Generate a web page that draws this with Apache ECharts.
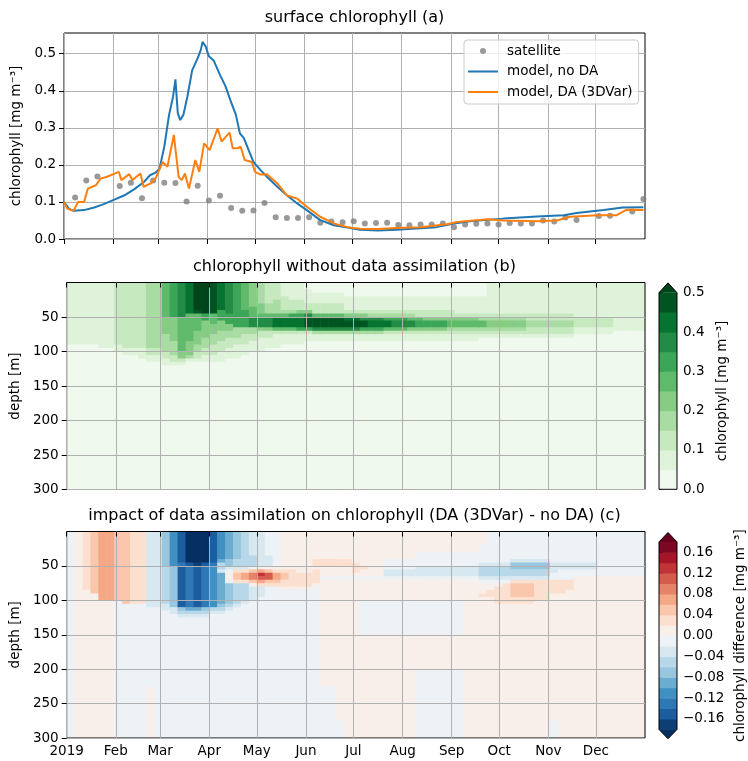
<!DOCTYPE html>
<html>
<head>
<meta charset="utf-8">
<title>surface chlorophyll</title>
<script src="https://cdn.jsdelivr.net/npm/echarts@6/dist/echarts.min.js"></script>
<style>
  html, body { margin: 0; padding: 0; background: #fff; }
  #chart { width: 748px; height: 761px; }
</style>
</head>
<body>
<div id="chart"></div>
<script>
// ---------- data ----------
// time axis is day of year 2019 (0 = Jan 1)
const monthStarts = [0, 31, 59, 90, 120, 151, 181, 212, 243, 273, 304, 334];
const monthLabels = ['2019', 'Feb', 'Mar', 'Apr', 'May', 'Jun', 'Jul', 'Aug', 'Sep', 'Oct', 'Nov', 'Dec'];
const chlTicks = [0, 0.1, 0.2, 0.3, 0.4, 0.5];
const depthTicks = [50, 100, 150, 200, 250, 300];

// panel (a): surface chlorophyll
const satDays = [7,14,21,35,42,49,56,63,70,77,84,91,98,105,112,119,126,133,140,147,154,161,168,175,182,189,196,203,210,217,224,231,238,245,252,259,266,273,280,287,294,301,308,315,322,336,343,357,364];
const satChl = [0.112,0.158,0.169,0.143,0.152,0.110,0.158,0.152,0.151,0.101,0.144,0.104,0.117,0.084,0.076,0.077,0.097,0.059,0.057,0.057,0.059,0.044,0.047,0.045,0.048,0.042,0.043,0.044,0.038,0.037,0.039,0.039,0.042,0.032,0.039,0.041,0.042,0.039,0.043,0.042,0.042,0.050,0.047,0.058,0.051,0.062,0.063,0.074,0.108];

const noDaDays = [0,3,6,12.6,19,25,32,38,44,50,54,57.5,60,63,66,68.5,70,71.5,73,75,77.5,80.5,84,86,87,89,91,94,98,101.5,104.5,108,110.5,113,116,119,123.5,127.5,134,140,146.5,152.5,161,169.5,178,186,197,209,234,245,255,276,297,314,322,339,351,364];
const noDaChl = [0.100,0.082,0.076,0.078,0.085,0.094,0.107,0.118,0.134,0.153,0.172,0.179,0.190,0.249,0.335,0.384,0.431,0.339,0.321,0.335,0.384,0.455,0.488,0.511,0.532,0.520,0.493,0.482,0.443,0.412,0.375,0.335,0.285,0.272,0.240,0.208,0.186,0.168,0.141,0.118,0.096,0.078,0.051,0.037,0.031,0.025,0.023,0.025,0.032,0.042,0.048,0.055,0.061,0.064,0.070,0.078,0.085,0.086];

const daDays = [0,2,6,8.8,12.6,15,20,23,27,34.5,36,41,43,48,50,54.5,57.5,62,65,69,72,74,76,78.5,82.5,85,88,91.5,96.5,99,104,106,109,111,113.5,118,120,123.5,127.5,134,140,146.5,152.5,161,169.5,178,186,197,209,224,240.5,247,266,276,297,309.5,318,335,347,353.5,364];
const daChl = [0.100,0.082,0.076,0.100,0.100,0.136,0.145,0.163,0.168,0.181,0.159,0.175,0.159,0.177,0.141,0.150,0.163,0.208,0.195,0.281,0.168,0.159,0.177,0.136,0.213,0.181,0.258,0.240,0.299,0.263,0.287,0.245,0.245,0.249,0.213,0.208,0.181,0.174,0.175,0.150,0.118,0.109,0.087,0.060,0.042,0.032,0.028,0.027,0.030,0.032,0.040,0.046,0.053,0.050,0.048,0.050,0.060,0.064,0.064,0.079,0.078];

// panels (b) and (c): contour bands.
// one profile per 5-day column, top to bottom over depthEdges rows,
// written as "code*count" runs; the last run fills to the bottom.
const colDays = 5;
const depthEdges = [0,5,10,15,20,25,30,35,40,45,50,55,60,65,70,75,80,85,90,95,100,105,110,115,120,125,130,150,175,200,225,250,275,300];

// chlorophyll levels (mg m-3), band code '0'..'9', 'A' = above 0.5
const chlLevels = [0, 0.05, 0.1, 0.15, 0.2, 0.25, 0.3, 0.35, 0.4, 0.45, 0.5];
const chlCodes = '0123456789A';
const chlColors = ['#f0f9ed','#dff3da','#c7e9c0','#a9dca2','#86cc85','#60ba6c','#3ba558','#238b45','#077331','#005422','#00441b'];
const chlProfiles = [
  '1*18 0', '1*18 0', '1*18 0', '1*18 0', '1*19 0', '1*19 0',
  '2*18 1*2 0', '2*19 1*2 0', '2*19 1*2 0', '2*19 1*3 0',
  '3*19 2*2 1*2 0', '3*19 2*2 1*2 0',
  '5*10 4*5 3*5 2*2 1*2 0', '6*10 4*7 3*4 2*2 1 0', '7*10 5*10 4*2 2 1 0', '8*9 5*8 4*4 3 1 0',
  'A*8 9 5*5 4*4 3*2 2*2 1 0', 'A*9 6*2 4*5 3*3 2*2 1*2 0', '9*9 5*3 4*3 3*3 2*3 1*2 0',
  '8*8 6*3 4*3 3*3 2*3 1*3 0', '7*9 6*3 4*2 3*2 2*3 1*3 0', '6*13 3*3 2*2 1*4 0',
  '5*8 6*5 3*2 2*3 1*3 0', '4*7 5*3 7*3 3*2 2*2 1*3 0', '3*6 4*3 5 7*3 4 2*2 1*4 0',
  '2*6 3*3 5 7*3 4 2*2 1*3 0', '2*5 3*4 5 8*3 5 2 1*4 0', '1*4 2*4 3 5 8*3 5 2 1*3 0',
  '1*5 2*3 3 6 8*3 5 2 1*3 0', '1*5 2*3 4 6 8*3 6 2 1*3 0', '0*2 1*4 2*2 4 7 9*3 6 2 1*2 0',
  '0*3 1*3 2*3 5 9*3 7 3 1*2 0', '0*3 1*3 2*3 5 9*3 7 3 1*2 0', '0*3 1*3 2*3 5 9*3 7 3 1*2 0', '0*3 1*3 2*3 5 9*3 7 3 1*2 0',
  '0*4 1*4 2 4 8 9*2 7 3 1*2 0', '0*4 1*4 2 4 8 9*2 7 3 1*2 0', '0*4 1*4 2 4 7 9*2 6 3 1*2 0',
  '0*4 1*4 2 3 7 8*2 6 3 1*2 0', '0*4 1*4 2 3 7 8*2 6 3 1*2 0', '0*4 1*4 2 3 6 8*2 5 2 1*2 0',
  '0*4 1*4 2 3 6 7*2 5 2 1*2 0', '0*4 1*4 2 3 6 7*2 5 2 1*2 0', '0*4 1*4 2 3 5 7*2 4 2 1*2 0',
  '0*4 1*4 2*2 5 6*2 4 2 1*2 0', '0*4 1*4 2*2 4 6*2 4 2 1*2 0', '0*4 1*4 2*2 4 6*2 4 2 1*2 0', '0*4 1*4 2*2 4 6*2 4 2 1*2 0',
  '0*4 1*4 2*2 4 5*2 3 2 1*2 0', '0*4 1*5 2 4 5*2 3 2 1*2 0', '0*4 1*5 2 4 5*2 3 2 1*2 0', '0*4 1*5 2 4 5*2 3 2 1*2 0',
  '0*4 1*5 2 3 5*2 3 2 1 0',
  '1*9 2 3 4*2 3 2 1 0', '1*9 2 3 4*2 3 2 1 0', '1*9 2 3 4*2 3 2 1 0', '1*9 2 3 4*2 3 2 1 0', '1*9 2 3 4*2 3 2 1 0',
  '1*9 2*2 3*2 2*2 1 0', '1*9 2*2 3*2 2*2 1 0', '1*9 2*2 3*2 2*2 1 0', '1*9 2*2 3*2 2*2 1 0', '1*9 2*2 3*2 2*2 1 0', '1*9 2*2 3*2 2*2 1 0',
  '1*10 2*3 1*2 0', '1*10 2*3 1*2 0', '1*10 2*3 1*2 0', '1*10 2*3 1*2 0', '1*10 2*3 1*2 0',
  '1*14 0', '1*14 0', '1*14 0', '1*14 0'
];

// difference levels (mg m-3): '#' below -0.18, 'i'..'a' = -0.18..0, '1'..'9' = 0..0.18, '+' above 0.18
const diffLevels = [-0.18,-0.16,-0.14,-0.12,-0.10,-0.08,-0.06,-0.04,-0.02,0,0.02,0.04,0.06,0.08,0.10,0.12,0.14,0.16,0.18];
const diffTicks = [-0.16,-0.12,-0.08,-0.04,0,0.04,0.08,0.12,0.16];
const diffCodes = '#ihgfedcba123456789+';
const diffColors = ['#053061','#0d3f76','#1c5da0','#2e78b5','#4190c2','#6bacd1','#96c7df','#b8d8e9','#d8e8f1','#ecf2f5',
                    '#f9efea','#fce0cf','#fac6ac','#f5a886','#e58368','#d45c4b','#c03438','#a51429','#7c0722','#67001f'];
const diffProfiles = [
  'a', '1', '2*17 1', '3*18 1', '4*20 1', '4*20 1', '3*20 a', '3*21 a', '2*21 a', '2*21 a',
  'b*22 a*8 1', 'b*22 a',
  'd*10 c*11 b*2 a', 'f*10 d*12 b*2 a', 'h*9 g h*12 d c b a', '#*9 h g*12 e c b a',
  '#*9 i h*12 e c b a', '#*9 h g*12 d c b a', 'h*9 g f*12 c b a',
  'f*8 e c*2 b e*9 d c b a', 'e*8 d*2 b a 1*2 a d*6 c b a', 'd*8 c*2 b 2 3*2 2 c*6 b a',
  'c*10 b 2 4*2 2 c*5 b a', 'b*7 c*3 a 3 5*2 3 1 b*4 a', 'b*10 a 4 7 6 4 2 b*3 a',
  'a*7 b*3 1 3 6*2 3 2 a', 'a*10 1 2 4*2 3 2 a', '1*11 2 3*2 2*2 1 a', '1*11 2*5 1 a',
  '1*12 2*4 1 a', '1*12 2*4 1 a', '1*8 2*2 1 2*4 1 a',
  '1*8 2*2 1*3 a 1*16 a', '1*8 2*2 1*3 a 1*16 a', '1*8 2*2 1*3 a 1*18 a', '1*8 2*2 1*3 a 1',
  '1*9 2*3 1 a 1', '1*10 2 1*2 a 1*6 a*7 1', '1*13 a 1*6 a*7 1', '1*13 a 1*6 a*7 1',
  '1*8 a*3 b*2 a 1*6 a*7 1', '1*8 a*3 b*2 a 1*6 a*7 1', '1*8 a*3 b*2 a 1*6 a*7 1', '1*8 a*3 b*2 a 1*6 a*7 1',
  '1*6 a*4 b*3 a 1*6 a*7 1*2 a', '1*6 a*4 b*3 a 1*6 a*7 1*2 a', '1*6 a*4 b*3 a 1*6 a*7 1*2 a',
  '1*6 a*4 b*3 a 1*6 a*7 1*2 a', '1*6 a*4 b*3 a 1*6 a*7 1*2 a', '1*6 a*4 b*3 a 1*6 a*7 1*2 a',
  '1*6 a*4 b*3 a 1', '1*6 a*4 b*3 a 1',
  '1*4 a*5 b c*3 b a 1*3 2 1', 'a*9 b c*3 b a 1*2 2*2 1', 'a*9 b c*3 b a 1 2*5 1', 'a*9 b c*3 b a 2*6 1',
  'a*8 b d*2 c*2 b 2 3*4 2*2 1', 'a*8 b d*2 c*2 b 2 3*4 2*2 1', 'a*8 b d*2 c*2 b 2 3*4 2*2 1',
  'a*8 b d*2 c*2 b 2*6 1', 'a*8 b d*2 c*2 b 2*6 1',
  'a*9 b*3 a*2 2*4 1*14 a', 'a*9 b*2 a*3 2*4 1', 'a*9 b*2 a*3 2*3 1',
  'a*9 b*2 a*2 1', 'a*9 b*2 a*2 1', 'a*9 b*2 a*2 1',
  'a*13 1', 'a*13 1', 'a*13 1', 'a*13 1', 'a*13 1', 'a*13 1'
];

// ---------- helpers ----------
const FONT = 'DejaVu Sans';
const nRows = depthEdges.length - 1;
const LINE_ICON = 'path://M0,0 L30,0 L30,2 L0,2 Z';

function expandProfile(p) {
  const tokens = p.trim().split(/\s+/);
  const out = [];
  tokens.forEach(function (tok, i) {
    const parts = tok.split('*');
    const count = i === tokens.length - 1 ? nRows - out.length : (parts[1] ? +parts[1] : 1);
    for (let k = 0; k < count; k++) out.push(parts[0]);
  });
  return out.slice(0, nRows);
}

function buildCells(profiles, codes) {
  const cells = [];
  profiles.forEach(function (p, j) {
    const rows = expandProfile(p);
    let r = 0;
    while (r < rows.length) {
      let r2 = r;
      while (r2 + 1 < rows.length && rows[r2 + 1] === rows[r]) r2++;
      cells.push([j * colDays, (j + 1) * colDays, depthEdges[r], depthEdges[r2 + 1], codes.indexOf(rows[r])]);
      r = r2 + 1;
    }
  });
  return cells;
}

function pairs(xs, ys) { return xs.map(function (x, i) { return [x, ys[i]]; }); }

function cellSeries(idx, cells, colors) {
  return {
    type: 'custom', xAxisIndex: idx, yAxisIndex: idx, data: cells, z: -1, silent: true, clip: true,
    progressive: 0, encode: { x: [0, 1], y: [2, 3] },
    renderItem: function (params, api) {
      const a = api.coord([api.value(0), api.value(2)]);
      const b = api.coord([api.value(1), api.value(3)]);
      return {
        type: 'rect',
        shape: { x: a[0], y: a[1], width: b[0] - a[0] + 0.6, height: b[1] - a[1] + 0.6 },
        style: { fill: colors[api.value(4)] }
      };
    }
  };
}

// colorbar pieces: bands, extension triangles, outline
function colorbarSeries(idx, levels, colors, firstColor, extTop, extBottom) {
  const bands = [];
  for (let i = 0; i < levels.length - 1; i++) bands.push([levels[i], levels[i + 1], firstColor + i]);
  const lo = levels[0], hi = levels[levels.length - 1];
  const ext = (hi - lo) * 0.05;
  const tris = [];
  if (extTop) tris.push([hi, hi + ext, colors.length - 1]);
  if (extBottom) tris.push([lo, lo - ext, 0]);
  return [
    {
      type: 'custom', xAxisIndex: idx, yAxisIndex: idx, data: bands, silent: true,
      renderItem: function (params, api) {
        const a = api.coord([0, api.value(1)]);
        const b = api.coord([1, api.value(0)]);
        return { type: 'rect', shape: { x: a[0], y: a[1], width: b[0] - a[0], height: b[1] - a[1] + 0.5 },
                 style: { fill: colors[api.value(2)] } };
      }
    },
    {
      type: 'custom', xAxisIndex: idx, yAxisIndex: idx, data: tris, silent: true,
      renderItem: function (params, api) {
        return { type: 'polygon',
                 shape: { points: [api.coord([0, api.value(0)]), api.coord([1, api.value(0)]), api.coord([0.5, api.value(1)])] },
                 style: { fill: colors[api.value(2)] } };
      }
    },
    {
      type: 'custom', xAxisIndex: idx, yAxisIndex: idx, silent: true,
      data: [[lo, hi, extBottom ? lo - ext : lo, extTop ? hi + ext : hi]],
      renderItem: function (params, api) {
        const pts = [
          api.coord([0, api.value(0)]), api.coord([0, api.value(1)]), api.coord([0.5, api.value(3)]),
          api.coord([1, api.value(1)]), api.coord([1, api.value(0)]), api.coord([0.5, api.value(2)])
        ];
        return { type: 'polygon', shape: { points: pts }, style: { fill: 'none', stroke: '#000', lineWidth: 1 } };
      }
    }
  ];
}

function monthAxis(idx, showLabels) {
  return {
    type: 'value', gridIndex: idx, min: 0, max: 365,
    axisLine: { show: false },
    axisTick: { show: true, length: 5, lineStyle: { color: '#000' }, customValues: monthStarts },
    axisLabel: {
      show: showLabels, customValues: monthStarts, margin: 6, color: '#000', fontSize: 13.5, fontFamily: FONT,
      formatter: function (v) { return monthLabels[monthStarts.indexOf(v)]; }
    },
    splitLine: { show: true, lineStyle: { color: '#b0b0b0', width: 1 } }
  };
}

function depthAxis(idx) {
  return {
    type: 'value', gridIndex: idx, min: 0, max: 300, inverse: true,
    axisLine: { show: false },
    axisTick: { show: true, length: 5, lineStyle: { color: '#000' }, customValues: depthTicks },
    axisLabel: { customValues: depthTicks, margin: 8, color: '#000', fontSize: 13.5, fontFamily: FONT },
    splitLine: { show: true, lineStyle: { color: '#b0b0b0', width: 1 } },
    name: 'depth [m]', nameLocation: 'middle', nameRotate: 90, nameGap: 40,
    nameTextStyle: { color: '#000', fontSize: 13.5, fontFamily: FONT }
  };
}

const frame = { show: true, borderColor: '#000', borderWidth: 1, backgroundColor: 'transparent' };
const titleStyle = { fontSize: 16, fontWeight: 'normal', color: '#000', fontFamily: FONT };

const chart = echarts.init(document.getElementById('chart'));
chart.setOption({
  animation: false,
  backgroundColor: '#fff',
  textStyle: { fontFamily: FONT },
  title: [
    { text: 'surface chlorophyll (a)', left: 354.5, top: 10, textAlign: 'center', padding: 0, textStyle: titleStyle },
    { text: 'chlorophyll without data assimilation (b)', left: 354.5, top: 259, textAlign: 'center', padding: 0, textStyle: titleStyle },
    { text: 'impact of data assimilation on chlorophyll (DA (3DVar) - no DA) (c)', left: 354.5, top: 508, textAlign: 'center', padding: 0, textStyle: titleStyle }
  ],
  legend: {
    left: 464, top: 40, orient: 'vertical', padding: [4, 6, 5, 4],
    itemWidth: 30, itemHeight: 6, itemGap: 6.5,
    backgroundColor: 'rgba(255,255,255,0.8)', borderColor: '#cccccc', borderWidth: 1, borderRadius: 3,
    textStyle: { fontSize: 13.5, color: '#000', fontFamily: FONT, padding: [0, 0, 0, 4] },
    data: [
      { name: 'satellite', icon: 'circle' },
      { name: 'model, no DA', icon: LINE_ICON },
      { name: 'model, DA (3DVar)', icon: LINE_ICON }
    ]
  },
  grid: [
    Object.assign({ left: 64, top: 33, width: 581, height: 206 }, frame),
    Object.assign({ left: 64, top: 282.5, width: 581, height: 207 }, frame),
    Object.assign({ left: 64, top: 531.5, width: 581, height: 206.5 }, frame),
    { left: 659, top: 292.7, width: 18, height: 196.6, show: false },
    { left: 659, top: 541.9, width: 18, height: 187.5, show: false }
  ],
  xAxis: [
    monthAxis(0, false), monthAxis(1, false), monthAxis(2, true),
    { type: 'value', gridIndex: 3, min: 0, max: 1, show: false },
    { type: 'value', gridIndex: 4, min: 0, max: 1, show: false }
  ],
  yAxis: [
    {
      type: 'value', gridIndex: 0, min: 0, max: 0.556,
      axisLine: { show: false },
      axisTick: { show: true, length: 5, lineStyle: { color: '#000' }, customValues: chlTicks },
      axisLabel: { customValues: chlTicks, margin: 8, color: '#000', fontSize: 13.5, fontFamily: FONT,
                   formatter: function (v) { return v.toFixed(1); } },
      splitLine: { show: true, lineStyle: { color: '#b0b0b0', width: 1 } },
      name: 'chlorophyll [mg m\u207B\u00B3]', nameLocation: 'middle', nameRotate: 90, nameGap: 38,
      nameTextStyle: { color: '#000', fontSize: 13.5, fontFamily: FONT }
    },
    depthAxis(1), depthAxis(2),
    {
      type: 'value', gridIndex: 3, min: 0, max: 0.5, position: 'right',
      axisLine: { show: false }, splitLine: { show: false },
      axisTick: { show: true, length: 4, lineStyle: { color: '#000' }, customValues: chlTicks },
      axisLabel: { customValues: chlTicks, margin: 6, color: '#000', fontSize: 13.5, fontFamily: FONT,
                   formatter: function (v) { return v.toFixed(1); } },
      name: 'chlorophyll [mg m\u207B\u00B3]', nameLocation: 'middle', nameRotate: 90, nameGap: 38,
      nameTextStyle: { color: '#000', fontSize: 13.5, fontFamily: FONT }
    },
    {
      type: 'value', gridIndex: 4, min: -0.18, max: 0.18, position: 'right',
      axisLine: { show: false }, splitLine: { show: false },
      axisTick: { show: true, length: 4, lineStyle: { color: '#000' }, customValues: diffTicks },
      axisLabel: { customValues: diffTicks, margin: 6, color: '#000', fontSize: 13.5, fontFamily: FONT,
                   formatter: function (v) { return (v < -1e-9 ? '\u2212' : '') + Math.abs(v).toFixed(2); } },
      name: 'chlorophyll difference [mg m\u207B\u00B3]', nameLocation: 'middle', nameRotate: 90, nameGap: 56,
      nameTextStyle: { color: '#000', fontSize: 13.5, fontFamily: FONT }
    }
  ],
  series: [
    {
      type: 'scatter', name: 'satellite', xAxisIndex: 0, yAxisIndex: 0, data: pairs(satDays, satChl),
      symbolSize: 6, itemStyle: { color: '#808080' }, z: 3
    },
    {
      type: 'line', name: 'model, no DA', xAxisIndex: 0, yAxisIndex: 0, data: pairs(noDaDays, noDaChl),
      symbol: 'none', lineStyle: { width: 2, color: '#1f77b4' }, itemStyle: { color: '#1f77b4' }, z: 4
    },
    {
      type: 'line', name: 'model, DA (3DVar)', xAxisIndex: 0, yAxisIndex: 0, data: pairs(daDays, daChl),
      symbol: 'none', lineStyle: { width: 2, color: '#ff7f0e' }, itemStyle: { color: '#ff7f0e' }, z: 5
    },
    cellSeries(1, buildCells(chlProfiles, chlCodes), chlColors),
    cellSeries(2, buildCells(diffProfiles, diffCodes), diffColors)
  ].concat(
    colorbarSeries(3, chlLevels, chlColors, 0, true, false),
    colorbarSeries(4, diffLevels, diffColors, 1, true, true)
  )
});
</script>
</body>
</html>
